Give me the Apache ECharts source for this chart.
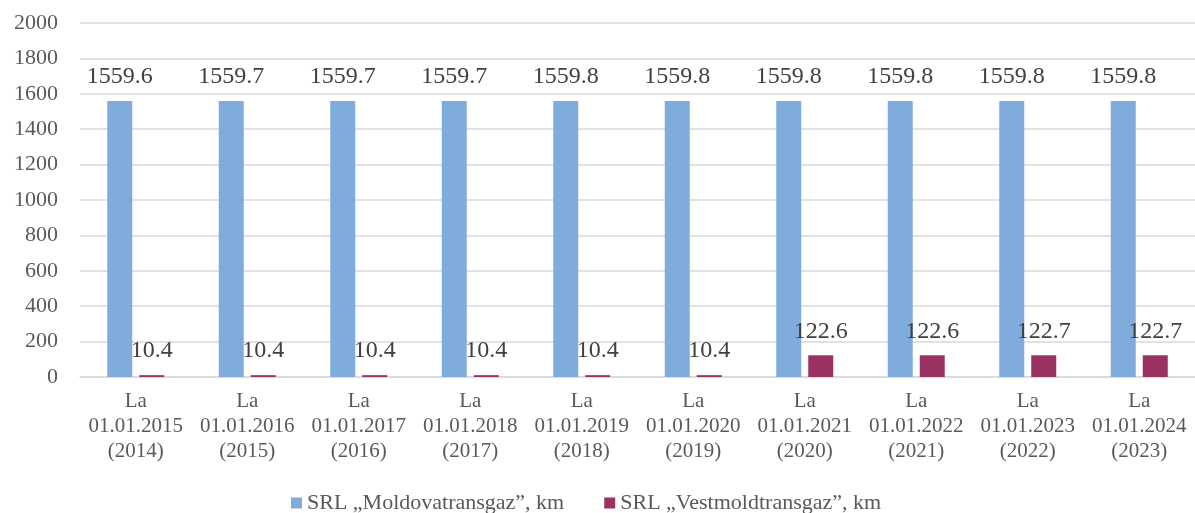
<!DOCTYPE html>
<html>
<head>
<meta charset="utf-8">
<script src="https://cdn.jsdelivr.net/npm/echarts@6/dist/echarts.min.js"></script>
<style>
  html, body { margin: 0; padding: 0; background: #fff; }
  #chart { width: 1195px; height: 513px; }
</style>
</head>
<body>
<div id="chart"></div>
<script>
// date categories
const categories = [
  'La\n01.01.2015\n(2014)', 'La\n01.01.2016\n(2015)', 'La\n01.01.2017\n(2016)',
  'La\n01.01.2018\n(2017)', 'La\n01.01.2019\n(2018)', 'La\n01.01.2020\n(2019)',
  'La\n01.01.2021\n(2020)', 'La\n01.01.2022\n(2021)', 'La\n01.01.2023\n(2022)',
  'La\n01.01.2024\n(2023)'
]
const seriesNames = ['SRL „Moldovatransgaz”, km', 'SRL „Vestmoldtransgaz”, km']
const moldovaValues = [1559.6, 1559.7, 1559.7, 1559.7, 1559.8, 1559.8, 1559.8, 1559.8, 1559.8, 1559.8]
const vestValues = [10.4, 10.4, 10.4, 10.4, 10.4, 10.4, 122.6, 122.6, 122.7, 122.7]

const font = 'Liberation Serif'

// same label for both series
const valueLabel = {
  show: true,
  position: 'top',
  distance: 12,
  fontFamily: font,
  fontSize: 24,
  color: '#404040',
  formatter: p => p.value.toFixed(1)
}

const chart = echarts.init(document.getElementById('chart'))
chart.setOption({
  animation: false,
  textStyle: { fontFamily: font },
  grid: { left: 80, right: 0, top: 23, bottom: 136 },
  legend: {
    bottom: -6,
    left: 286,
    icon: 'rect',
    itemWidth: 11,
    itemHeight: 11,
    itemGap: 40,
    textStyle: { fontFamily: font, fontSize: 22, color: '#595959' },
    data: seriesNames
  },
  xAxis: {
    type: 'category',
    data: categories,
    axisTick: { show: false },
    axisLine: { lineStyle: { color: '#d9d9d9', width: 1.5 } },
    axisLabel: {
      interval: 0,
      margin: 12,
      fontFamily: font,
      fontSize: 21,
      lineHeight: 25,
      color: '#595959'
    }
  },
  yAxis: {
    type: 'value',
    min: 0,
    max: 2000,
    interval: 200,
    axisLine: { show: false },
    axisTick: { show: false },
    splitLine: { lineStyle: { color: '#d9d9d9', width: 1.5 } },
    axisLabel: {
      fontFamily: font,
      fontSize: 22,
      color: '#595959',
      margin: 22,
      formatter: v => String(v)
    }
  },
  series: [
    {
      name: seriesNames[0],
      type: 'bar',
      data: moldovaValues,
      barWidth: 25,
      barGap: '28%',
      itemStyle: { color: '#7facdc' },
      label: valueLabel
    },
    {
      name: seriesNames[1],
      type: 'bar',
      data: vestValues,
      barWidth: 25,
      itemStyle: { color: '#9a3162' },
      label: valueLabel
    }
  ]
})
</script>
</body>
</html>
